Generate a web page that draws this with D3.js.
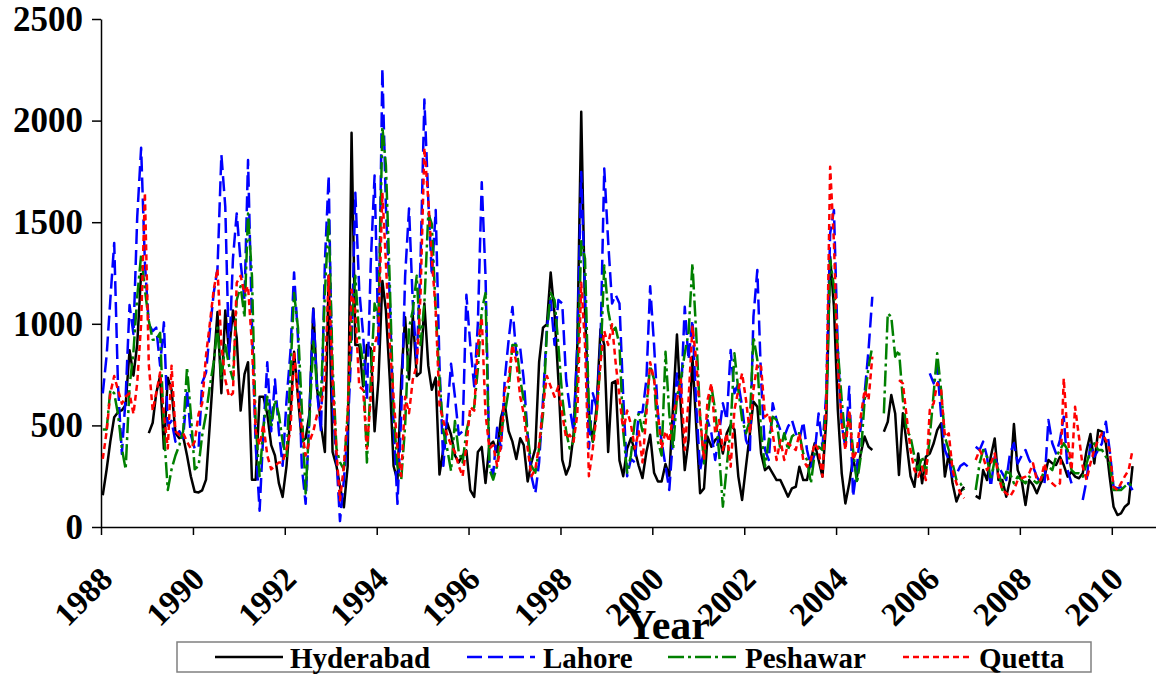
<!DOCTYPE html>
<html>
<head>
<meta charset="utf-8">
<script src="https://cdn.jsdelivr.net/npm/d3@7"></script>
<style>
  body { margin: 0; background: #ffffff; }
  svg { display: block; font-family: "Liberation Serif", "Times New Roman", serif; font-weight: bold; }
</style>
</head>
<body>
<div id="chart"></div>
<script>
// Monthly series, one row per year, Jan 1988 .. Jun 2010 (null = missing month)
let firstYear = 1988;

let hyderabad = [
  156, 284, 420, 540, 565, 575, 600, 870, 745, 900, 1250, null,
  462, 513, 658, 743, 386, 735, 675, 462, 437, 445, 352, 250,
  173, 170, 180, 233, 505, 794, 1058, 658, 1066, 862, 1066, 930,
  573, 752, 811, 233, 233, 641, 641, 556, 403, 352, 216, 148,
  301, 556, 862, 641, 420, 437, 556, 1075, 675, 500, 369, 1236,
  369, 301, 200, 97, 300, 1940, 896, 896, 692, 896, 879, 471,
  726, 1211, 1066, 726, 300, 228, 726, 1032, 726, 1041, 743, 760,
  1100, 794, 675, 735, 258, 386, 513, 454, 352, 318, 352, 377,
  182, 148, 369, 394, 216, 403, 420, 369, 539, 607, 471, 420,
  335, 437, 403, 224, 318, 386, 811, 981, 998, 1253, 1049, 726,
  330, 258, 301, 454, 896, 2044, 1066, 556, 420, 590, 973, 896,
  369, 709, 718, 327, 250, 386, 437, 377, 301, 241, 369, 454,
  267, 224, 224, 310, 250, 607, 947, 592, 280, 428, 838, 500,
  166, 190, 445, 395, 428, 445, 362, 461, 502, 480, 248, 133,
  300, 461, 617, 592, 362, 280, 297, 264, 231, 231, 190, 149,
  190, 198, 297, 231, 231, 330, 412, 330, 248, 527, 1330, 1084,
  576, 264, 116, 215, 338, 248, 362, 445, 395, 379, null, null,
  469, 518, 650, 559, 256, 560, 412, 250, 198, 362, 215, 346,
  362, 412, 477, 510, 248, 362, 215, 125, 174, 198, null, null,
  153, 141, 280, 231, 346, 436, 231, 231, 149, 231, 507, 280,
  231, 108, 231, 207, 166, 215, 248, 330, 313, 305, 346, 305,
  248, 272, 248, 240, 264, 379, 458, 313, 477, 469, 412, 248,
  100, 59, 67, 100, 116, 300
];

let lahore = [
  658, 845, 1117, 1398, 700, 360, 641, 1092, 950, 1526, 1866, 1300,
  998, 964, 981, 794, 1007, 500, 522, 420, 471, 437, 675, 454,
  386, 386, 709, 760, 964, 1151, 1270, 1832, 1577, 828, 1321, 1543,
  1304, 1117, 1806, 1000, 400, 80, 471, 811, 471, 726, 471, 301,
  624, 862, 1253, 930, 301, 114, 556, 1083, 658, 471, 1304, 1730,
  607, 335, 29, 233, 471, 896, 1645, 1168, 947, 624, 1304, 1730,
  900, 2257, 1577, 1117, 500, 114, 556, 1236, 1568, 1100, 811, 1304,
  2104, 1611, 1236, 1560, 800, 301, 556, 803, 641, 454, 471, 1143,
  896, 692, 1000, 1696, 1236, 318, 258, 488, 386, 726, 922, 1083,
  845, 879, 726, 454, 250, 165, 318, 624, 981, 1117, 896, 1117,
  1100, 726, 590, 471, 896, 1747, 1151, 386, 658, 590, 896, 1764,
  1406, 1100, 1143, 1100, 641, 250, 335, 318, 565, 565, 726, 1185,
  896, 556, 420, 301, 182, 454, 756, 625, 1084, 822, 1018, 600,
  280, 379, 527, 461, 330, 461, 609, 527, 871, 658, 707, 592,
  428, 379, 1035, 1265, 723, 379, 330, 609, 527, 477, 445, 494,
  527, 461, 428, 518, 379, 297, 362, 559, 395, 658, 1445, 1560,
  871, 500, 395, 690, 149, 297, 494, 658, 871, 1133, null, null,
  null, null, null, null, null, null, null, null, null, null, null, null,
  756, 707, 789, 550, 379, 330, 248, 260, 300, 313, 297, null,
  395, 379, 420, 346, 198, 346, 297, 264, 231, 362, 412, 313,
  350, 379, 330, 297, 248, 215, 215, 527, 412, 362, 428, 543,
  280, 215, null, null, 133, 231, 412, 346, 379, 412, 518, 379,
  198, 190, 198, 210, 215, 182
];

let peshawar = [
  480, 480, 675, 658, 556, 386, 284, 692, 862, 1134, 1338, 1168,
  1015, 922, 922, 956, 471, 182, 284, 352, 403, 471, 786, 556,
  284, 301, 450, 556, 692, 811, 981, 726, 896, 794, 726, 1117,
  1185, 1032, 1543, 1236, 500, 250, 488, 641, 488, 624, 556, 420,
  335, 760, 1151, 981, 590, 165, 522, 913, 675, 641, 1151, 1526,
  800, 386, 318, 284, 556, 981, 1236, 930, 811, 318, 726, 1100,
  1032, 1968, 1781, 1200, 556, 301, 233, 500, 981, 1066, 1236, 896,
  1100, 1543, 1492, 1066, 726, 471, 386, 276, 522, 369, 318, 471,
  556, 590, 777, 1066, 1151, 284, 233, 301, 471, 556, 675, 896,
  896, 726, 624, 454, 301, 267, 386, 556, 964, 1151, 1117, 896,
  641, 471, 386, 420, 726, 1406, 1321, 556, 420, 556, 811, 1287,
  1066, 964, 981, 896, 471, 267, 352, 522, 556, 471, 590, 794,
  726, 420, 352, 862, 556, 386, 641, 726, 855, 953, 1297, 953,
  543, 313, 543, 690, 576, 362, 100, 297, 494, 855, 674, 527,
  461, 527, 937, 822, 461, 297, 428, 543, 527, 379, 461, 379,
  445, 461, 461, 362, 330, 215, 362, 395, 379, 592, 1314, 1183,
  871, 625, 428, 559, 379, 215, 346, 625, 789, 888, null, null,
  559, 1051, 1035, 838, 870, 625, 477, 444, 346, 280, 346, 264,
  444, 658, 855, 674, 444, 379, 313, 231, 215, 182, null, null,
  182, 313, 379, 346, 231, 330, 280, 182, 272, 264, 215, 248,
  231, 215, 248, 231, 215, 231, 280, 297, 280, 346, 379, 412,
  379, 280, 264, 264, 248, 313, 379, 412, 379, 379, 346, 313,
  182, 182, 182, 200, 215, 200
];

let quetta = [
  335, 471, 658, 743, 675, 607, 641, 658, 556, 709, 1000, 1645,
  800, 573, 658, 760, 556, 386, 794, 471, 454, 462, 420, 386,
  420, 556, 607, 845, 1000, 1168, 1270, 896, 726, 641, 658, 1202,
  1236, 1151, 1185, 896, 471, 403, 505, 352, 284, 301, 318, 318,
  386, 471, 862, 641, 488, 352, 420, 471, 556, 590, 726, 1236,
  726, 369, 131, 301, 556, 1168, 1066, 692, 675, 386, 641, 896,
  964, 1645, 1300, 896, 641, 386, 250, 641, 560, 726, 794, 1134,
  1866, 1611, 1321, 1066, 600, 522, 454, 403, 369, 301, 250, 400,
  590, 573, 896, 1032, 556, 386, 403, 301, 400, 675, 726, 896,
  811, 641, 556, 386, 250, 284, 403, 590, 743, 692, 641, 692,
  556, 437, 454, 420, 556, 1202, 896, 250, 386, 556, 811, 964,
  896, 998, 811, 641, 471, 573, 505, 386, 471, 318, 556, 811,
  726, 556, 386, 471, 420, 556, 624, 726, 379, 625, 986, 822,
  543, 330, 625, 707, 461, 527, 379, 461, 297, 576, 674, 756,
  625, 461, 674, 805, 789, 543, 559, 461, 330, 428, 330, 412,
  395, 379, 461, 330, 297, 330, 412, 379, 248, 600, 1773, 1400,
  789, 510, 379, 576, 330, 379, 543, 674, 625, 838, null, null,
  null, null, null, null, 723, 707, 543, 379, 280, 248, 297, 231,
  576, 609, 707, 674, 444, 461, 280, 215, 166, 141, null, null,
  330, 379, 346, 280, 313, 362, 248, 182, 166, 149, 182, 231,
  240, 248, 264, 313, 231, 231, 313, 231, 215, 198, 215, 731,
  444, 280, 592, 444, 297, 231, 313, 379, 428, 461, 428, 379,
  198, 182, 215, 250, 280, 379
];

let seriesNames = ["Hyderabad", "Lahore", "Peshawar", "Quetta"];
let seriesValues = [hyderabad, lahore, peshawar, quetta];
let yTicks = [0, 500, 1000, 1500, 2000, 2500];
let xTickYears = [1988, 1990, 1992, 1994, 1996, 1998, 2000, 2002, 2004, 2006, 2008, 2010];

// line look for each series (colour, dash pattern)
let seriesStyle = [
  { color: "#000000", dash: null },
  { color: "#0000ff", dash: "15,6" },
  { color: "#008000", dash: "16,4,3,4" },
  { color: "#ff0000", dash: "6,4" }
];

let svgWidth = 1156;
let svgHeight = 677;
let serif = "'Liberation Serif', 'Times New Roman', serif";

let svg = d3.select("#chart")
  .append("svg")
  .attr("width", svgWidth)
  .attr("height", svgHeight);

svg.append("rect")
  .attr("width", svgWidth)
  .attr("height", svgHeight)
  .attr("fill", "#ffffff");

// time axis runs to Jan 2011, so the line goes past the 2010 tick
let xScale = d3.scaleTime()
  .domain([new Date(firstYear, 0, 1), new Date(2011, 0, 1)])
  .range([101, 1157.7]);

let yScale = d3.scaleLinear()
  .domain([0, 2500])
  .range([527, 19]);

// monthly points sit mid-month
function monthDate(i) {
  return new Date(firstYear, i, 15);
}

let line = d3.line()
  .defined(d => d.v != null)
  .x(d => xScale(d.date))
  .y(d => yScale(d.v));

// x axis
let xAxis = d3.axisBottom(xScale)
  .tickValues(xTickYears.map(y => new Date(y, 0, 1)))
  .tickFormat(d3.timeFormat("%Y"))
  .tickSize(8)
  .tickSizeOuter(0);

let xg = svg.append("g")
  .attr("transform", "translate(0,527)")
  .call(xAxis);

xg.select(".domain").attr("stroke", "#000").attr("stroke-width", 1.5);
xg.selectAll(".tick line").attr("stroke", "#000").attr("stroke-width", 1.5);
xg.selectAll(".tick text")
  .attr("x", 0)
  .attr("y", 0)
  .attr("dy", null)
  .attr("transform", "translate(13,54) rotate(-45)")
  .attr("text-anchor", "end")
  .attr("fill", "#000")
  .style("font-family", serif)
  .style("font-weight", "bold")
  .style("font-size", "33px");

// y axis
let yAxis = d3.axisLeft(yScale)
  .tickValues(yTicks)
  .tickFormat(d3.format("d"))
  .tickSize(9)
  .tickPadding(9)
  .tickSizeOuter(0);

let yg = svg.append("g")
  .attr("transform", "translate(101,0)")
  .call(yAxis);

yg.select(".domain").attr("stroke", "#000").attr("stroke-width", 1.5);
yg.selectAll(".tick line").attr("stroke", "#000").attr("stroke-width", 1.5);
yg.selectAll(".tick text")
  .attr("fill", "#000")
  .style("font-family", serif)
  .style("font-weight", "bold")
  .style("font-size", "35px");

// draw the four series, Quetta last so it sits on top
seriesValues.forEach(function(vals, k) {
  let pts = vals.map((v, i) => ({ date: monthDate(i), v: v }));
  svg.append("path")
    .datum(pts)
    .attr("fill", "none")
    .attr("stroke", seriesStyle[k].color)
    .attr("stroke-width", 2.5)
    .attr("stroke-dasharray", seriesStyle[k].dash)
    .attr("stroke-linejoin", "round")
    .attr("d", line);
});

// axis title
svg.append("text")
  .attr("x", 668)
  .attr("y", 639)
  .attr("text-anchor", "middle")
  .style("font-size", "42px")
  .text("Year");

// legend
svg.append("rect")
  .attr("x", 177)
  .attr("y", 642)
  .attr("width", 914)
  .attr("height", 30)
  .attr("fill", "#ffffff")
  .attr("stroke", "#808080")
  .attr("stroke-width", 1.5);

let legendLineX = [215, 467, 668, 903];
let legendTextX = [290, 543, 745, 979];

seriesNames.forEach(function(name, k) {
  svg.append("line")
    .attr("x1", legendLineX[k])
    .attr("x2", legendLineX[k] + 68)
    .attr("y1", 657)
    .attr("y2", 657)
    .attr("stroke", seriesStyle[k].color)
    .attr("stroke-width", 2.5)
    .attr("stroke-dasharray", seriesStyle[k].dash);

  svg.append("text")
    .attr("x", legendTextX[k])
    .attr("y", 668)
    .style("font-size", "29px")
    .text(name);
});
</script>
</body>
</html>
